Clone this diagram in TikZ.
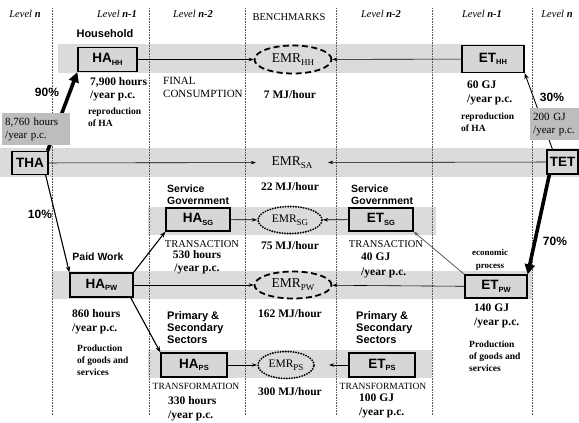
\documentclass[tikz,border=0pt]{standalone}
\usepackage{fontspec}
\setmainfont{Liberation Serif}
\setsansfont{Liberation Sans}
\usetikzlibrary{shapes.geometric,arrows.meta}
\definecolor{band}{gray}{0.86}
\definecolor{boxfill}{gray}{0.84}
\definecolor{totfill}{gray}{0.74}
\definecolor{dotline}{gray}{0.35}
\newcommand\fsz[2]{\fontsize{#1}{#2}\selectfont}
\newcommand\bsub[1]{\raisebox{-2.5pt}{\fontsize{7.5}{7.5}\selectfont #1}}
\newcommand\esub[1]{\raisebox{-3pt}{\fontsize{9}{9}\selectfont #1}}
\begin{document}
\begin{tikzpicture}[x=1pt,y=-1pt,
  lev/.style={draw,line width=1.3pt,fill=boxfill,font=\sffamily\bfseries\fsz{13.5}{15},inner sep=0pt},
  ell/.style={ellipse,inner sep=0pt,font=\fsz{13.5}{15}},
  elldash/.style={ell,draw,line width=1.8pt,dash pattern=on 6pt off 3.5pt},
  elldot/.style={ell,draw,line width=2.1pt,dash pattern=on 0pt off 2.6pt,line cap=round,font=\fsz{11.5}{13}},
  flowarr/.style={line width=0.6pt,-{Stealth[length=5pt,width=3.5pt]}},
  bigarr/.style={line width=3.6pt,-{Triangle[length=10pt,width=10pt]}},
  midarr/.style={line width=1.1pt,-{Stealth[length=6pt,width=4.5pt]}},
  tot/.style={fill=totfill,font=\fsz{11}{13},align=left,inner sep=0pt,anchor=north west},
  lvl/.style={font=\itshape\fsz{10.5}{12}},
  bser/.style={font=\bfseries\fsz{11.5}{13},align=left,inner sep=0pt,anchor=north west},
  rser/.style={font=\fsz{11}{13},align=left,inner sep=0pt},
  smallb/.style={font=\bfseries\fsz{9.5}{12},align=left,inner sep=0pt,anchor=north west},
  bsans/.style={font=\sffamily\bfseries\fsz{10.5}{12},align=left,inner sep=0pt,anchor=north west},
  pct/.style={font=\sffamily\bfseries\fsz{12}{14},inner sep=0pt},
]
\useasboundingbox (0,0) rectangle (579,423);
% bands
\fill[band] (58,44) rectangle (524,73);
\fill[band] (0,148) rectangle (579,177);
\fill[band] (148,207) rectangle (436,235);
\fill[band] (52,271) rectangle (532,299);
\fill[band] (148,350) rectangle (432,378);
% dotted separators
\foreach \x in {52,149,245,336,432,532}
  \draw[dotline,line width=0.6pt,dash pattern=on 0.8pt off 0.8pt] (\x,8) -- (\x,415);
% level labels
\node[lvl] (l1) at (25,14) {Level \textbf{n}};
\node[lvl] (l2) at (117,14) {Level \textbf{n-1}};
\node[lvl] (l3) at (193,14) {Level \textbf{n-2}};
\node[font=\fsz{10.5}{12}] (bm) at (289,17) {BENCHMARKS};
\node[lvl] (l4) at (381,14) {Level \textbf{n-2}};
\node[lvl] (l5) at (482,14) {Level \textbf{n-1}};
\node[lvl] (l6) at (557,14) {Level \textbf{n}};
% boxes
\node[lev,minimum width=59pt,minimum height=24pt] (hahh) at (107.5,59.5) {HA\bsub{HH}};
\node[lev,minimum width=62pt,minimum height=27pt] (ethh) at (493,59) {ET\bsub{HH}};
\node[lev,minimum width=36pt,minimum height=23pt] (tha) at (30,163) {THA};
\node[lev,minimum width=31pt,minimum height=24pt] (tet) at (562.5,162) {TET};
\node[lev,minimum width=64pt,minimum height=23pt] (hasg) at (198,219.5) {HA\bsub{SG}};
\node[lev,minimum width=64pt,minimum height=23pt] (etsg) at (381,219.5) {ET\bsub{SG}};
\node[lev,minimum width=63pt,minimum height=24pt] (hapw) at (101.5,285) {HA\bsub{PW}};
\node[lev,minimum width=62pt,minimum height=23pt] (etpw) at (496,286.5) {ET\bsub{PW}};
\node[lev,minimum width=66pt,minimum height=24pt] (haps) at (194,365) {HA\bsub{PS}};
\node[lev,minimum width=66pt,minimum height=24pt] (etps) at (382,365) {ET\bsub{PS}};
% benchmark ellipses
\node[elldash,minimum width=77pt,minimum height=28pt] (emrhh) at (293,59.5) {EMR\esub{HH}};
\node[ell,inner xsep=5pt] (emrsa) at (292,162.5) {EMR\esub{SA}};
\node[elldot,minimum width=64pt,minimum height=27pt] (emrsg) at (290,220) {EMR\esub{SG}};
\node[elldash,minimum width=77pt,minimum height=27pt] (emrpw) at (293,285) {EMR\esub{PW}};
\node[elldot,minimum width=56pt,minimum height=27pt] (emrps) at (286,365) {EMR\esub{PS}};
% flows into benchmarks
\draw[flowarr] (hahh) -- (emrhh);
\draw[flowarr] (ethh) -- (emrhh);
\draw[flowarr] (tha) -- (emrsa);
\draw[flowarr] (tet) -- (emrsa);
\draw[flowarr] (hasg) -- (emrsg);
\draw[flowarr] (etsg) -- (emrsg);
\draw[flowarr] (hapw) -- (emrpw);
\draw[flowarr] (etpw) -- (emrpw);
\draw[flowarr] (haps) -- (emrps);
\draw[flowarr,shorten >=14pt] (etps) -- (emrps);
% splits
\draw[bigarr] ([xshift=-1pt]tha.north east) -- (hahh.south west);
\draw[midarr] ([xshift=-3pt]tha.south east) -- (hapw.north west);
\draw[midarr] (hapw.north east) -- (hasg.south west);
\draw[midarr] ([xshift=-3pt]hapw.south east) -- (haps.north west);
\draw[midarr,line width=0.9pt] ([xshift=-10pt]tet.north) -- (ethh.south east);
\draw[bigarr] ([xshift=3pt]tet.south west) -- (etpw.north east);
\draw[flowarr,gray!70!black,line width=0.8pt] (etpw.north west) -- (etsg.south east);
% totals
\node[tot,minimum width=66pt,minimum height=32pt,text width=62pt,inner xsep=3pt] (toth) at (2,113) {8,760 hours\\/year p.c.};
\node[tot,minimum width=49pt,minimum height=32pt,text width=46pt,inner xsep=3pt] (tote) at (530,108) {200 GJ\\/year p.c.};
% percentages
\node[pct] (p90) at (47,92) {90\%};
\node[pct] (p10) at (40,214) {10\%};
\node[pct] (p30) at (552,97) {30\%};
\node[pct] (p70) at (555,241) {70\%};
% left column texts
\node[bsans,anchor=center,font=\sffamily\bfseries\fsz{11}{12}] (hh) at (105,34) {Household};
\node[bser] (hhh) at (90,77) {7,900 hours\\/year p.c.};
\node[smallb] (hhr) at (88,108) {reproduction\\of HA};
\node[bsans,anchor=center] (pw) at (98,257) {Paid Work};
\node[bser,font=\bfseries\fsz{11.5}{14}] (pwh) at (72,309) {860 hours\\/year p.c.};
\node[smallb] (pwp) at (77,345) {Production\\of goods and\\services};
% n-2 left
\node[rser,anchor=north west] (fc) at (163,77) {FINAL\\CONSUMPTION};
\node[bsans] (sgl) at (167,185) {Service\\Government};
\node[rser,font=\fsz{10.5}{12}] (trl) at (202,244) {TRANSACTION};
\node[bser,anchor=center,align=center] (sgh) at (197,262) {530 hours\\/year p.c.};
\node[bsans,font=\sffamily\bfseries\fsz{11}{12}] (psl) at (167,311) {Primary \&\\Secondary\\Sectors};
\node[rser,font=\fsz{9.5}{11}] (tfl) at (196,386) {TRANSFORMATION};
\node[bser,font=\bfseries\fsz{11.5}{14}] (psh) at (168,396) {330 hours\\/year p.c.};
% benchmarks texts
\node[bser,anchor=center] (m7) at (290,95) {7 MJ/hour};
\node[bser,anchor=center] (m22) at (290,187) {22 MJ/hour};
\node[bser,anchor=center] (m75) at (290,246) {75 MJ/hour};
\node[bser,anchor=center] (m162) at (290,314) {162 MJ/hour};
\node[bser,anchor=center] (m300) at (290,392) {300 MJ/hour};
% n-2 right
\node[bsans] (sgr) at (351,185) {Service\\Government};
\node[rser,font=\fsz{10.5}{12}] (trr) at (386,244) {TRANSACTION};
\node[bser,font=\bfseries\fsz{11.5}{14.5}] (sge) at (361,253) {40 GJ\\/year p.c.};
\node[bsans,font=\sffamily\bfseries\fsz{11}{12}] (psr) at (356,311) {Primary \&\\Secondary\\Sectors};
\node[rser,font=\fsz{9.5}{11}] (tfr) at (383,386) {TRANSFORMATION};
\node[bser,font=\bfseries\fsz{11.5}{14}] (pse) at (359,394) {100 GJ\\/year p.c.};
% right column texts
\node[bser,font=\bfseries\fsz{11.5}{14}] (hhe) at (467,81) {60 GJ\\/year p.c.};
\node[smallb] (hher) at (461,113) {reproduction\\of HA};
\node[smallb,font=\bfseries\fsz{9}{12.5},align=center,anchor=center] (eco) at (490,260) {economic\\process};
\node[bser,font=\bfseries\fsz{11.5}{14}] (pwe) at (474,304) {140 GJ\\/year p.c.};
\node[smallb] (pwep) at (469,341) {Production\\of goods and\\services};
\end{tikzpicture}
\end{document}
